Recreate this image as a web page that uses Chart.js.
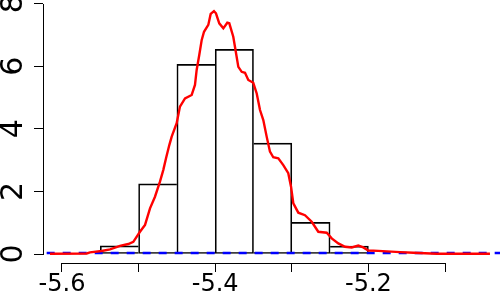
<!DOCTYPE html>
<html>
<head>
<meta charset="utf-8">
<script src="https://cdn.jsdelivr.net/npm/chart.js@4.4.1/dist/chart.umd.min.js"></script>
<style>
  body { margin: 0; background: #fff; }
  #box { width: 500px; height: 300px; }
</style>
</head>
<body>
<div id="box"><canvas id="grafico" width="500" height="300"></canvas></div>
<script>
// histograma (largura da classe 0.05)
const centrosClasses = [-5.575, -5.525, -5.475, -5.425, -5.375, -5.325, -5.275, -5.225]
const densidadeHist = [0, 0.26, 2.24, 6.06, 6.54, 3.54, 1.01, 0.25]

// densidade estimada (curva vermelha)
const curvaX = [-5.6157, -5.5678, -5.5634, -5.5482, -5.5373, -5.5243, -5.5134, -5.5069, -5.4982, -5.4916,
  -5.4851, -5.4786, -5.4721, -5.4678, -5.4642, -5.4599, -5.4568, -5.4503, -5.4460, -5.4394,
  -5.4307, -5.4264, -5.4242, -5.4208, -5.4176, -5.4146, -5.4090, -5.4059, -5.4016, -5.3990,
  -5.3947, -5.3894, -5.3842, -5.3816, -5.3764, -5.3742, -5.3698, -5.3654, -5.3611, -5.3568,
  -5.3503, -5.3458, -5.3415, -5.3372, -5.3328, -5.3285, -5.3242, -5.3176, -5.3111, -5.3046,
  -5.3010, -5.2980, -5.2915, -5.2828, -5.2740, -5.2654, -5.2544, -5.2479, -5.2393, -5.2305,
  -5.2218, -5.2132, -5.2067, -5.2001, -5.1871, -5.1587, -5.1414, -5.1108, -5.0413]
const curvaY = [0.01, 0.016, 0.054, 0.096, 0.15, 0.26, 0.32, 0.39, 0.71, 0.93,
  1.46, 1.83, 2.31, 2.68, 3.06, 3.48, 3.75, 4.18, 4.71, 4.97,
  5.08, 5.40, 5.88, 6.36, 6.84, 7.10, 7.32, 7.67, 7.76, 7.69,
  7.37, 7.21, 7.39, 7.37, 6.94, 6.62, 5.98, 5.82, 5.79, 5.56,
  5.47, 5.13, 4.60, 4.28, 3.75, 3.27, 3.09, 3.06, 2.84, 2.58,
  2.15, 1.62, 1.32, 1.24, 1.03, 0.71, 0.68, 0.50, 0.34, 0.23,
  0.21, 0.27, 0.21, 0.11, 0.10, 0.06, 0.04, 0.01, 0.01]

// linha azul tracejada (priori)
const prioriX = [-5.62, -5.4, -5.2, -5.02]
const prioriY = [0.03, 0.03, 0.03, 0.03]

const ticksX = ['-5.6', '-5.4', '-5.2']
const ticksY = ['0', '2', '4', '6', '8']

function pares(xs, ys){
  return xs.map((x, i) => ({x: x, y: ys[i]}))
}

// bordas estilo R: uma linha só entre barras vizinhas
function bordaBarra(ctx){
  const i = ctx.dataIndex
  const h = densidadeHist[i]
  const ant = i > 0 ? densidadeHist[i - 1] : -1
  const prox = i < densidadeHist.length - 1 ? densidadeHist[i + 1] : -1
  return {top: 1, bottom: 1, left: ant <= h ? 1 : 0, right: prox < h ? 1 : 0}
}

const eixosR = {
  id: 'eixosR',
  afterDraw(chart){
    const c = chart.ctx
    const sx = chart.scales.x
    const sy = chart.scales.y
    const area = chart.chartArea
    c.save()
    c.strokeStyle = '#000'
    c.lineWidth = 1
    // linha do eixo x, do primeiro ao último tick
    const x0 = Math.round(sx.getPixelForValue(sx.ticks[0].value))
    const x1 = Math.round(sx.getPixelForValue(sx.ticks[sx.ticks.length - 1].value))
    const yb = Math.round(area.bottom) + 0.5
    c.beginPath(); c.moveTo(x0, yb); c.lineTo(x1 + 1, yb); c.stroke()
    // linha do eixo y
    const y0 = Math.round(sy.getPixelForValue(sy.ticks[0].value))
    const y1 = Math.round(sy.getPixelForValue(sy.ticks[sy.ticks.length - 1].value))
    const xl = Math.round(area.left) + 0.5
    c.beginPath(); c.moveTo(xl, y0 + 1); c.lineTo(xl, y1); c.stroke()
    // rótulos do eixo y, girados como no R
    c.fillStyle = '#000'
    c.font = '30px "DejaVu Sans"'
    c.textAlign = 'center'
    c.textBaseline = 'middle'
    sy.ticks.forEach((t, i) => {
      c.save()
      c.translate(14.5, sy.getPixelForValue(t.value))
      c.rotate(-Math.PI / 2)
      c.fillText(ticksY[i], 0, 0)
      c.restore()
    })
    c.restore()
  }
}

const ctx = document.getElementById('grafico')

const config = {
  type: 'bar',
  data: {
    datasets: [
      {
        type: 'bar',
        data: pares(centrosClasses, densidadeHist),
        backgroundColor: 'rgba(0,0,0,0)',
        borderColor: '#000',
        borderWidth: bordaBarra,
        borderSkipped: false,
        barPercentage: 1,
        categoryPercentage: 1,
        order: 3
      },
      {
        type: 'line',
        data: pares(prioriX, prioriY),
        borderColor: '#0000ff',
        borderWidth: 2.5,
        borderDash: [8, 8],
        pointRadius: 0,
        order: 2
      },
      {
        type: 'line',
        data: pares(curvaX, curvaY),
        borderColor: '#ff0000',
        borderWidth: 2.4,
        pointRadius: 0,
        tension: 0,
        order: 1
      }
    ]
  },
  options: {
    responsive: false,
    devicePixelRatio: 1,
    animation: false,
    layout: { padding: 0 },
    plugins: {
      legend: { display: false },
      tooltip: { enabled: false }
    },
    scales: {
      x: {
        type: 'linear',
        min: -5.6248,
        max: -5.0282,
        offset: false,
        grid: { offset: false, drawOnChartArea: false, drawTicks: true, tickLength: 9, color: '#000', lineWidth: 1 },
        border: { display: false },
        ticks: {
          stepSize: 0.1,
          includeBounds: false,
          autoSkip: false,
          maxRotation: 0,
          padding: -2,
          color: '#000',
          font: { family: 'DejaVu Sans', size: 24 },
          callback: function(v){
            const r = (Math.round(v * 10) / 10).toFixed(1)
            return ticksX.includes(r) ? r : ''
          }
        },
        afterFit: function(s){ s.height = 37; s.paddingLeft = 0; s.paddingRight = 0 }
      },
      y: {
        type: 'linear',
        min: -0.2875,
        max: 8.115,
        grid: { drawOnChartArea: false, drawTicks: true, tickLength: 9, color: '#000', lineWidth: 1 },
        border: { display: false },
        ticks: { stepSize: 2, includeBounds: false, display: false },
        afterFit: function(s){ s.width = 43; s.paddingTop = 0; s.paddingBottom = 0 }
      }
    }
  },
  plugins: [eixosR]
}

const meuGrafico = new Chart(ctx, config)
</script>
</body>
</html>
